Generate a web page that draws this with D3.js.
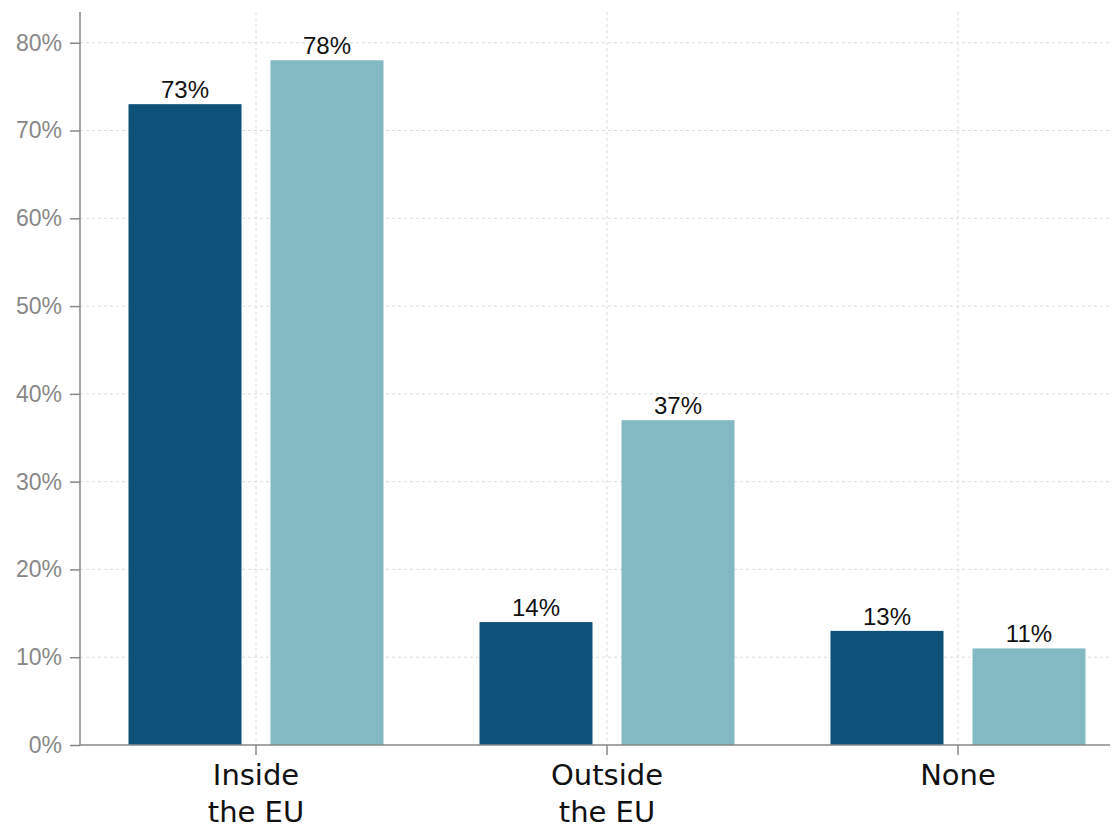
<!DOCTYPE html>
<html>
<head>
<meta charset="utf-8">
<script src="https://cdn.jsdelivr.net/npm/d3@7"></script>
<style>
  body { margin: 0; background: #fff; }
</style>
</head>
<body>
<div id="chart"></div>
<script>
// data
const categories = [["Inside", "the EU"], ["Outside", "the EU"], ["None"]];
const seriesA = [73, 14, 13];
const seriesB = [78, 37, 11];
const yTicks = [0, 10, 20, 30, 40, 50, 60, 70, 80];
const colors = ["#0e5279", "#82b9c2"];

const width = 1116, height = 829;
const margin = {top: 12, right: 6, bottom: 84, left: 80};

const svg = d3.select("#chart").append("svg")
    .attr("width", width)
    .attr("height", height);

const x = d3.scaleBand()
    .domain(d3.range(categories.length))
    .range([margin.left + 0.5, margin.left + 0.5 + 351 * categories.length]);

const y = d3.scaleLinear()
    .domain([0, 83.5])
    .range([height - margin.bottom, margin.top]);

const x0 = margin.left, x1 = width - margin.right;

// grid - horizontal
svg.append("g")
  .selectAll("line")
  .data(yTicks.filter(d => d > 0))
  .join("line")
    .attr("x1", x0).attr("x2", x1)
    .attr("y1", d => y(d)).attr("y2", d => y(d))
    .attr("stroke", "#dcdcdc")
    .attr("stroke-dasharray", "3,3");

// grid - vertical at category centers
svg.append("g")
  .selectAll("line")
  .data(d3.range(categories.length))
  .join("line")
    .attr("x1", d => x(d) + x.bandwidth() / 2)
    .attr("x2", d => x(d) + x.bandwidth() / 2)
    .attr("y1", margin.top).attr("y2", y(0))
    .attr("stroke", "#dcdcdc")
    .attr("stroke-dasharray", "3,3");

// bars
const offset = 71, barW = 113;
const series = [seriesA, seriesB];
series.forEach((vals, s) => {
  const cx = i => x(i) + x.bandwidth() / 2 + (s === 0 ? -offset : offset);
  svg.append("g")
    .selectAll("rect")
    .data(vals)
    .join("rect")
      .attr("x", (d, i) => cx(i) - barW / 2)
      .attr("y", d => y(d))
      .attr("width", barW)
      .attr("height", d => y(0) - y(d))
      .attr("fill", colors[s]);

  svg.append("g")
    .selectAll("text")
    .data(vals)
    .join("text")
      .attr("x", (d, i) => cx(i))
      .attr("y", d => y(d) - 6)
      .attr("text-anchor", "middle")
      .attr("font-family", "Liberation Sans, Arial, sans-serif")
      .attr("font-size", 24)
      .attr("fill", "#111")
      .text(d => d + "%");
});

// y axis
const yAxis = svg.append("g")
    .attr("transform", "translate(" + x0 + ",0)")
    .call(d3.axisLeft(y).tickValues(yTicks).tickSize(10).tickPadding(8).tickFormat(d => d + "%"));
yAxis.select(".domain").remove();
yAxis.selectAll(".tick line").attr("stroke", "#888").attr("stroke-width", 1.5);
yAxis.selectAll("text")
    .attr("fill", "#888")
    .attr("font-family", "Liberation Sans, Arial, sans-serif")
    .attr("font-size", 23);
svg.append("line")
    .attr("x1", x0).attr("x2", x0)
    .attr("y1", margin.top).attr("y2", y(0))
    .attr("stroke", "#888").attr("stroke-width", 1.5);

// x axis
svg.append("line")
    .attr("x1", x0).attr("x2", x1)
    .attr("y1", y(0)).attr("y2", y(0))
    .attr("stroke", "#888").attr("stroke-width", 1.5);

const xt = svg.append("g")
  .selectAll("g")
  .data(categories)
  .join("g")
    .attr("transform", (d, i) => "translate(" + (x(i) + x.bandwidth() / 2) + "," + y(0) + ")");
xt.append("line")
    .attr("y2", 10)
    .attr("stroke", "#888").attr("stroke-width", 1.5);
xt.append("text")
    .attr("text-anchor", "middle")
    .attr("font-family", "DejaVu Sans, sans-serif")
    .attr("font-size", 29)
    .attr("fill", "#111")
  .selectAll("tspan")
  .data(d => d)
  .join("tspan")
    .attr("x", 0)
    .attr("y", (d, j) => 40 + j * 37)
    .text(d => d);
</script>
</body>
</html>
